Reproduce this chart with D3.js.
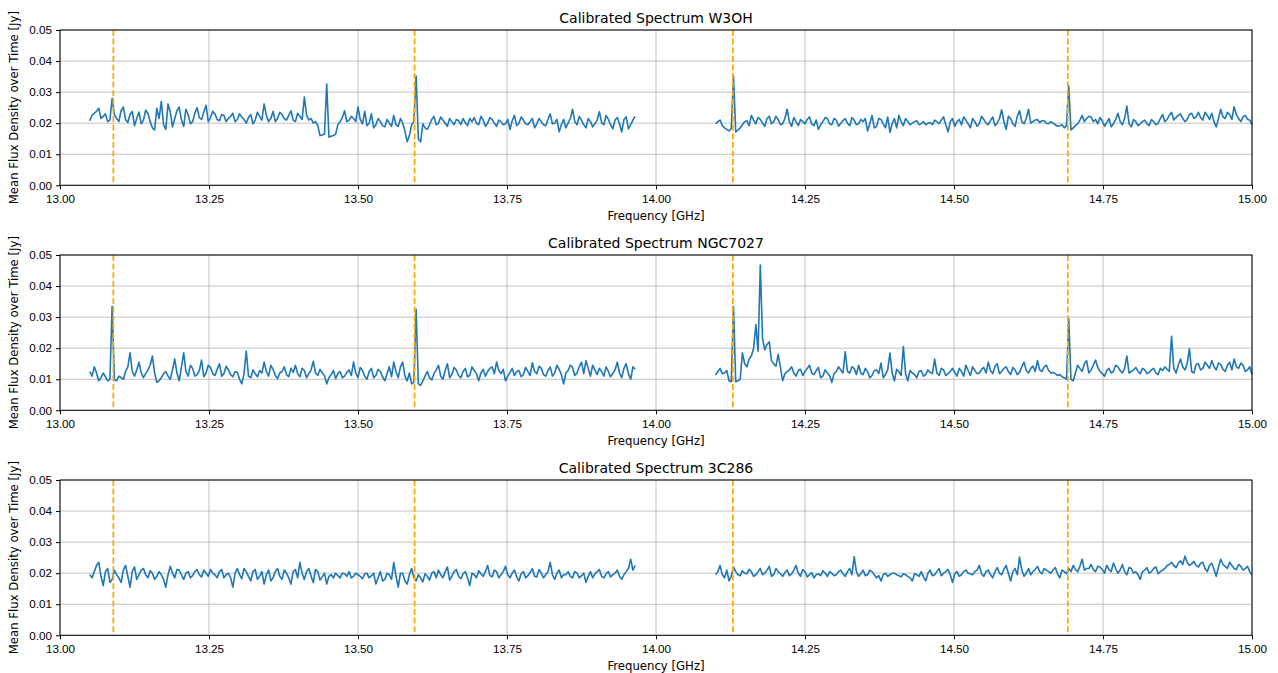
<!DOCTYPE html>
<html>
<head>
<meta charset="utf-8">
<script src="https://cdn.jsdelivr.net/npm/d3@7"></script>
<style>
  body { margin: 0; background: #fff; }
  svg { display: block; font-family: "DejaVu Sans", sans-serif; }
  .tick text { font-size: 11.7px; fill: #000; }
  .tick line { stroke: #000; }
  .domain { display: none; }
</style>
</head>
<body>
<svg id="chart" width="1278" height="673"></svg>
<script>
// channel grids of the two observed bands (GHz); "even" channels sit on the
// grid, "odd" channels half a step after each even one
const bandA = { start: 13.05, step: 0.0075 };
const bandB = { start: 14.10, step: 0.0075 };

// rest lines marked in orange (GHz)
const markerLines = [13.0895, 13.595, 14.129, 14.691];

const xTicks = [13.00, 13.25, 13.50, 13.75, 14.00, 14.25, 14.50, 14.75, 15.00];
const yTicks = [0.00, 0.01, 0.02, 0.03, 0.04, 0.05];

// W3OH mean flux density [Jy]
const w3ohA = [
  .0208,.0232,.0248,.0222,.0205,.0280,.0215,.0240,.0212,.0228,
  .0192,.0236,.0210,.0232,.0185,.0248,.0270,.0180,.0235,.0215,
  .0252,.0190,.0228,.0205,.0250,.0212,.0258,.0218,.0230,.0208,
  .0225,.0215,.0232,.0212,.0220,.0200,.0228,.0210,.0222,.0262,
  .0205,.0238,.0215,.0228,.0210,.0240,.0205,.0222,.0284,.0210,
  .0200,.0192,.0162,.0326,.0158,.0165,.0205,.0240,.0210,.0215,
  .0252,.0198,.0192,.0230,.0195,.0205,.0188,.0200,.0225,.0190,
  .0200,.0140,.0195,.0352,.0140,.0185,.0195,.0222,.0200,.0210,
  .0190,.0205,.0212,.0195,.0202,.0215,.0218,.0195,.0210,.0200,
  .0212,.0190,.0205,.0198,.0180,.0225,.0200,.0210,.0195,.0215,
  .0198,.0205,.0192,.0230,.0200,.0172,.0212,.0200,.0245,.0195,
  .0210,.0185,.0205,.0198,.0237,.0195,.0212,.0182,.0218,.0172,
  .0220,.0195,.0222
];
const w3ohAodd = [
  .0225,.0238,.0215,.0230,.0210,.0228,.0205,.0252,.0202,.0238,
  .0215,.0198,.0242,.0205,.0178,.0215,.0195,.0262,.0188,.0240,
  .0210,.0245,.0198,.0232,.0218,.0235,.0205,.0238,.0212,.0228,
  .0205,.0222,.0205,.0230,.0212,.0218,.0198,.0235,.0210,.0225,
  .0215,.0205,.0235,.0215,.0225,.0210,.0232,.0212,.0225,.0215,
  .0205,.0160,.0165,.0155,.0160,.0195,.0218,.0205,.0222,.0205,
  .0212,.0238,.0200,.0185,.0215,.0192,.0212,.0190,.0195,.0215,
  .0175,.0160,.0205,.0150,.0198,.0180,.0212,.0195,.0220,.0200,
  .0215,.0195,.0208,.0215,.0192,.0205,.0200,.0222,.0190,.0218,
  .0200,.0210,.0195,.0212,.0208,.0192,.0220,.0198,.0205,.0185,
  .0215,.0195,.0212,.0198,.0212,.0195,.0185,.0215,.0205,.0222,
  .0195,.0215,.0188,.0210,.0202,.0225,.0195,.0210,.0198,.0212,
  .0182,.0210
];
const w3ohB = [
  .0198,.0210,.0185,.0175,.0352,.0178,.0195,.0208,.0225,.0198,
  .0212,.0190,.0222,.0205,.0212,.0198,.0245,.0190,.0205,.0212,
  .0198,.0220,.0192,.0180,.0205,.0215,.0195,.0210,.0200,.0215,
  .0192,.0210,.0198,.0205,.0175,.0225,.0190,.0212,.0185,.0170,
  .0215,.0225,.0192,.0205,.0200,.0208,.0198,.0195,.0202,.0210,
  .0198,.0220,.0172,.0215,.0205,.0195,.0210,.0185,.0205,.0198,
  .0212,.0195,.0220,.0200,.0243,.0180,.0215,.0190,.0240,.0198,
  .0245,.0205,.0212,.0208,.0200,.0205,.0195,.0192,.0185,.0320,
  .0185,.0198,.0225,.0215,.0220,.0212,.0218,.0190,.0215,.0198,
  .0232,.0195,.0255,.0188,.0205,.0198,.0210,.0192,.0205,.0200,
  .0228,.0212,.0235,.0218,.0230,.0205,.0228,.0215,.0235,.0210,
  .0225,.0232,.0188,.0245,.0215,.0228,.0253,.0215,.0220,.0212,
  .0195
];
const w3ohBodd = [
  .0205,.0192,.0180,.0182,.0172,.0185,.0205,.0192,.0210,.0218,
  .0200,.0215,.0198,.0222,.0195,.0215,.0205,.0218,.0192,.0205,
  .0212,.0198,.0210,.0195,.0218,.0198,.0215,.0190,.0208,.0200,
  .0218,.0195,.0212,.0215,.0198,.0185,.0215,.0198,.0220,.0198,
  .0185,.0205,.0215,.0195,.0205,.0195,.0205,.0200,.0195,.0205,
  .0210,.0195,.0205,.0190,.0212,.0220,.0198,.0215,.0190,.0222,
  .0200,.0208,.0192,.0215,.0205,.0222,.0198,.0222,.0205,.0215,
  .0200,.0210,.0202,.0208,.0198,.0200,.0190,.0195,.0192,.0178,
  .0192,.0210,.0205,.0222,.0205,.0198,.0208,.0202,.0188,.0212,
  .0205,.0215,.0198,.0212,.0192,.0205,.0198,.0212,.0195,.0215,
  .0205,.0225,.0210,.0225,.0215,.0212,.0232,.0220,.0218,.0235,
  .0212,.0205,.0215,.0220,.0235,.0212,.0228,.0205,.0225,.0210
];

// NGC7027 mean flux density [Jy]
const ngcA = [
  .0125,.0140,.0095,.0120,.0095,.0335,.0095,.0105,.0125,.0185,
  .0110,.0155,.0105,.0130,.0175,.0090,.0105,.0125,.0100,.0165,
  .0095,.0185,.0110,.0135,.0115,.0162,.0120,.0138,.0112,.0150,
  .0118,.0130,.0108,.0122,.0085,.0191,.0105,.0118,.0128,.0155,
  .0110,.0132,.0102,.0125,.0115,.0135,.0145,.0108,.0128,.0118,
  .0158,.0112,.0120,.0085,.0115,.0102,.0125,.0110,.0130,.0155,
  .0105,.0128,.0100,.0135,.0112,.0125,.0095,.0140,.0155,.0105,
  .0155,.0095,.0085,.0325,.0080,.0110,.0105,.0118,.0145,.0100,
  .0150,.0115,.0130,.0105,.0135,.0112,.0128,.0095,.0132,.0125,
  .0140,.0155,.0118,.0095,.0122,.0112,.0128,.0115,.0125,.0153,
  .0118,.0135,.0110,.0140,.0120,.0132,.0085,.0128,.0138,.0120,
  .0155,.0160,.0110,.0130,.0135,.0110,.0125,.0118,.0155,.0105,
  .0150,.0100,.0132
];
const ngcAodd = [
  .0110,.0120,.0105,.0108,.0100,.0098,.0110,.0100,.0140,.0125,
  .0130,.0120,.0118,.0145,.0120,.0095,.0118,.0110,.0130,.0120,
  .0140,.0125,.0145,.0110,.0128,.0108,.0145,.0118,.0132,.0110,
  .0142,.0115,.0125,.0100,.0118,.0110,.0130,.0108,.0120,.0125,
  .0145,.0112,.0120,.0140,.0108,.0122,.0118,.0135,.0105,.0130,
  .0120,.0132,.0112,.0105,.0128,.0118,.0105,.0122,.0112,.0120,
  .0138,.0110,.0125,.0105,.0132,.0108,.0118,.0108,.0125,.0140,
  .0110,.0120,.0090,.0085,.0095,.0125,.0098,.0130,.0110,.0128,
  .0105,.0138,.0112,.0125,.0108,.0140,.0118,.0120,.0110,.0135,
  .0118,.0128,.0132,.0110,.0135,.0125,.0108,.0138,.0112,.0125,
  .0142,.0115,.0128,.0110,.0145,.0115,.0120,.0145,.0112,.0140,
  .0118,.0135,.0145,.0115,.0125,.0140,.0108,.0130,.0120,.0135,
  .0118,.0140
];
const ngcB = [
  .0113,.0135,.0120,.0095,.0334,.0095,.0185,.0140,.0175,.0276,
  .0468,.0195,.0220,.0150,.0180,.0095,.0125,.0140,.0110,.0132,
  .0125,.0145,.0115,.0138,.0110,.0120,.0090,.0125,.0130,.0188,
  .0120,.0135,.0145,.0115,.0125,.0112,.0130,.0152,.0115,.0184,
  .0095,.0125,.0205,.0095,.0120,.0105,.0128,.0115,.0122,.0165,
  .0112,.0130,.0118,.0135,.0110,.0125,.0145,.0112,.0128,.0120,
  .0138,.0155,.0118,.0150,.0125,.0140,.0115,.0130,.0122,.0155,
  .0120,.0142,.0160,.0125,.0145,.0120,.0118,.0115,.0105,.0295,
  .0095,.0145,.0125,.0160,.0130,.0162,.0125,.0110,.0135,.0125,
  .0140,.0120,.0175,.0125,.0138,.0118,.0130,.0122,.0135,.0115,
  .0128,.0132,.0238,.0120,.0165,.0130,.0198,.0120,.0150,.0135,
  .0145,.0160,.0130,.0148,.0125,.0155,.0165,.0135,.0145,.0130,
  .0115
];
const ngcBodd = [
  .0125,.0118,.0128,.0092,.0092,.0100,.0150,.0165,.0200,.0190,
  .0230,.0212,.0160,.0142,.0140,.0118,.0130,.0120,.0128,.0112,
  .0135,.0120,.0128,.0105,.0130,.0112,.0118,.0140,.0120,.0125,
  .0140,.0115,.0120,.0135,.0105,.0128,.0118,.0105,.0130,.0120,
  .0132,.0112,.0118,.0128,.0115,.0125,.0110,.0130,.0118,.0120,
  .0135,.0112,.0125,.0122,.0135,.0110,.0128,.0140,.0118,.0132,
  .0120,.0128,.0142,.0118,.0135,.0125,.0138,.0115,.0140,.0128,
  .0135,.0125,.0130,.0140,.0128,.0122,.0112,.0108,.0100,.0100,
  .0120,.0135,.0150,.0120,.0145,.0138,.0118,.0128,.0120,.0145,
  .0128,.0135,.0120,.0130,.0125,.0135,.0118,.0130,.0120,.0135,
  .0140,.0125,.0135,.0145,.0140,.0150,.0125,.0148,.0130,.0155,
  .0135,.0140,.0152,.0132,.0145,.0130,.0140,.0152,.0125,.0140
];

// 3C286 mean flux density [Jy]
const c286A = [
  .0195,.0205,.0235,.0160,.0215,.0180,.0195,.0170,.0225,.0155,
  .0220,.0195,.0215,.0185,.0200,.0190,.0195,.0155,.0222,.0185,
  .0210,.0180,.0205,.0192,.0212,.0188,.0200,.0212,.0195,.0205,
  .0185,.0200,.0155,.0215,.0182,.0205,.0175,.0212,.0190,.0165,
  .0210,.0185,.0215,.0180,.0200,.0165,.0212,.0235,.0180,.0215,
  .0170,.0205,.0188,.0165,.0195,.0200,.0185,.0198,.0205,.0190,
  .0195,.0182,.0200,.0192,.0165,.0205,.0180,.0195,.0235,.0155,
  .0200,.0165,.0215,.0175,.0185,.0198,.0178,.0205,.0210,.0185,
  .0220,.0190,.0212,.0182,.0205,.0160,.0195,.0208,.0190,.0225,
  .0188,.0205,.0195,.0222,.0185,.0210,.0175,.0205,.0192,.0215,
  .0188,.0200,.0195,.0235,.0180,.0210,.0195,.0205,.0185,.0200,
  .0192,.0170,.0205,.0198,.0212,.0185,.0205,.0195,.0210,.0180,
  .0205,.0245,.0225
];
const c286Aodd = [
  .0185,.0225,.0190,.0205,.0170,.0210,.0185,.0210,.0190,.0205,
  .0180,.0210,.0195,.0208,.0180,.0205,.0180,.0195,.0200,.0212,
  .0195,.0200,.0185,.0205,.0195,.0210,.0190,.0200,.0185,.0212,
  .0195,.0185,.0200,.0195,.0215,.0190,.0205,.0180,.0205,.0195,
  .0175,.0205,.0190,.0210,.0185,.0205,.0185,.0200,.0205,.0190,
  .0212,.0178,.0200,.0190,.0185,.0192,.0200,.0190,.0185,.0200,
  .0190,.0198,.0185,.0200,.0185,.0175,.0200,.0180,.0190,.0200,
  .0175,.0195,.0185,.0195,.0172,.0190,.0200,.0185,.0195,.0205,
  .0178,.0205,.0190,.0198,.0185,.0200,.0185,.0198,.0205,.0192,
  .0210,.0185,.0205,.0195,.0200,.0188,.0198,.0185,.0202,.0190,
  .0212,.0185,.0205,.0195,.0200,.0185,.0195,.0190,.0205,.0185,
  .0200,.0190,.0185,.0205,.0190,.0198,.0188,.0200,.0190,.0195,
  .0215,.0210
];
const c286B = [
  .0195,.0225,.0185,.0175,.0220,.0195,.0208,.0198,.0205,.0195,
  .0215,.0200,.0222,.0195,.0205,.0190,.0210,.0198,.0225,.0190,
  .0205,.0195,.0185,.0198,.0208,.0190,.0200,.0195,.0210,.0190,
  .0215,.0253,.0190,.0210,.0195,.0205,.0185,.0175,.0200,.0195,
  .0200,.0192,.0198,.0190,.0175,.0195,.0205,.0175,.0210,.0195,
  .0215,.0200,.0212,.0170,.0205,.0195,.0210,.0198,.0205,.0225,
  .0190,.0210,.0185,.0218,.0195,.0225,.0175,.0215,.0252,.0190,
  .0215,.0205,.0222,.0198,.0210,.0200,.0218,.0185,.0205,.0215,
  .0225,.0205,.0245,.0215,.0228,.0205,.0220,.0200,.0212,.0233,
  .0200,.0228,.0195,.0215,.0205,.0180,.0210,.0200,.0215,.0198,
  .0210,.0225,.0235,.0218,.0240,.0255,.0225,.0238,.0220,.0235,
  .0205,.0232,.0190,.0245,.0222,.0235,.0215,.0228,.0210,.0222,
  .0195
];
const c286Bodd = [
  .0205,.0195,.0210,.0190,.0205,.0192,.0200,.0212,.0190,.0205,
  .0195,.0210,.0190,.0215,.0198,.0202,.0192,.0210,.0200,.0212,
  .0188,.0202,.0195,.0192,.0200,.0205,.0192,.0205,.0198,.0205,
  .0195,.0205,.0198,.0192,.0210,.0195,.0192,.0195,.0190,.0200,
  .0195,.0188,.0195,.0185,.0198,.0190,.0188,.0200,.0192,.0205,
  .0192,.0205,.0195,.0198,.0190,.0205,.0200,.0195,.0210,.0198,
  .0205,.0195,.0205,.0200,.0212,.0200,.0205,.0195,.0210,.0200,
  .0195,.0212,.0205,.0215,.0205,.0210,.0198,.0210,.0198,.0205,
  .0212,.0222,.0210,.0215,.0212,.0222,.0212,.0225,.0205,.0215,
  .0210,.0205,.0218,.0200,.0195,.0205,.0218,.0205,.0220,.0205,
  .0215,.0228,.0225,.0232,.0228,.0235,.0230,.0225,.0232,.0215,
  .0225,.0212,.0220,.0228,.0215,.0225,.0212,.0222,.0215,.0205
];

const panels = [
  { title: 'Calibrated Spectrum W3OH', a: [w3ohA, w3ohAodd], b: [w3ohB, w3ohBodd] },
  { title: 'Calibrated Spectrum NGC7027', a: [ngcA, ngcAodd], b: [ngcB, ngcBodd] },
  { title: 'Calibrated Spectrum 3C286', a: [c286A, c286Aodd], b: [c286B, c286Bodd] }
];

const svg = d3.select('#chart');
const left = 60, width = 1192, height = 155.3;
const tops = [30, 255, 480];

const x = d3.scaleLinear().domain([13, 15]).range([0, width]);
const y = d3.scaleLinear().domain([0, 0.05]).range([height, 0]);

// pair every channel value with its frequency, even and odd channels in order
function toPoints(band, [even, odd]) {
  const pts = [];
  even.forEach((v, i) => {
    pts.push([band.start + i * band.step, v]);
    if (odd[i] !== undefined) pts.push([band.start + (i + 0.5) * band.step, odd[i]]);
  });
  return pts;
}

const line = d3.line().x(d => x(d[0])).y(d => y(d[1]));

panels.forEach((p, k) => {
  const g = svg.append('g').attr('transform', `translate(${left},${tops[k]})`);

  // grid
  g.append('g').selectAll('line').data(xTicks).join('line')
    .attr('x1', d => x(d)).attr('x2', d => x(d))
    .attr('y1', 0).attr('y2', height)
    .attr('stroke', '#b0b0b0').attr('stroke-width', 1).attr('opacity', 0.75);
  g.append('g').selectAll('line').data(yTicks).join('line')
    .attr('x1', 0).attr('x2', width)
    .attr('y1', d => y(d)).attr('y2', d => y(d))
    .attr('stroke', '#b0b0b0').attr('stroke-width', 1).attr('opacity', 0.75);

  // spectrum, two bands
  [toPoints(bandA, p.a), toPoints(bandB, p.b)].forEach(pts => {
    g.append('path').datum(pts)
      .attr('d', line)
      .attr('fill', 'none')
      .attr('stroke', '#1f77b4')
      .attr('stroke-width', 1.6)
      .attr('stroke-linejoin', 'round');
  });

  // marker lines
  g.append('g').selectAll('line').data(markerLines).join('line')
    .attr('x1', d => x(d)).attr('x2', d => x(d))
    .attr('y1', 0).attr('y2', height)
    .attr('stroke', '#ffa500').attr('stroke-width', 1.7)
    .attr('stroke-dasharray', '6,2.6');

  // axes
  g.append('g').attr('transform', `translate(0,${height})`)
    .call(d3.axisBottom(x).tickValues(xTicks).tickFormat(d3.format('.2f'))
      .tickSize(4).tickSizeOuter(0).tickPadding(5));
  g.append('g')
    .call(d3.axisLeft(y).tickValues(yTicks).tickFormat(d3.format('.2f'))
      .tickSize(4).tickSizeOuter(0).tickPadding(4));

  // frame
  g.append('rect').attr('width', width).attr('height', height)
    .attr('fill', 'none').attr('stroke', '#000').attr('stroke-width', 1);

  g.append('text')
    .attr('x', width / 2).attr('y', -7)
    .attr('text-anchor', 'middle')
    .style('font-size', '14px')
    .text(p.title);

  g.append('text')
    .attr('x', width / 2).attr('y', height + 35)
    .attr('text-anchor', 'middle')
    .style('font-size', '11.7px')
    .text('Frequency [GHz]');

  g.append('text')
    .attr('transform', `translate(${-42},${height / 2}) rotate(-90)`)
    .attr('text-anchor', 'middle')
    .style('font-size', '11.7px')
    .text('Mean Flux Density over Time [Jy]');
});
</script>
</body>
</html>
